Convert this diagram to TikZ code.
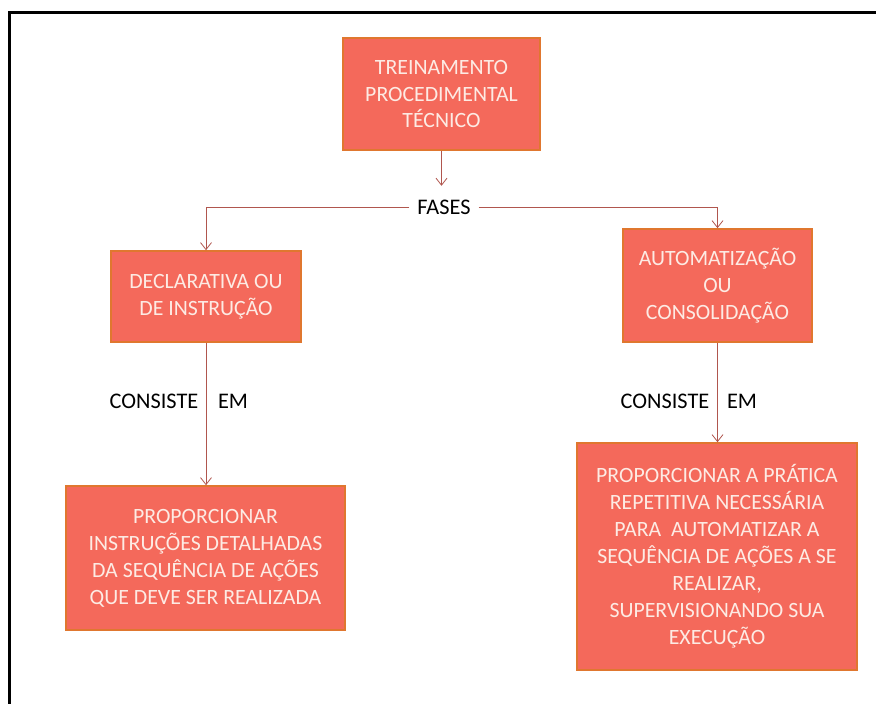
\documentclass[tikz,border=0pt]{standalone}
\usepackage{fontspec}
\setmainfont{Carlito}
\usetikzlibrary{arrows.meta}

\definecolor{boxfill}{HTML}{F4695B}
\definecolor{boxedge}{HTML}{E0772F}
\definecolor{boxtext}{HTML}{FDEBE4}
\definecolor{linkcol}{HTML}{B0564E}

\tikzset{
  phase/.style={draw=boxedge, line width=1.6pt, fill=boxfill, text=boxtext,
    align=center, inner sep=0pt, font=\fontsize{21.8}{27}\selectfont},
  word/.style={text=black, inner sep=0pt, font=\fontsize{22.3}{26}\selectfont},
  conn/.style={draw=linkcol, line width=0.8pt,
    -{Straight Barb[length=7pt,width=11pt,line width=0.8pt]}}
}

\begin{document}
\begin{tikzpicture}[x=1pt,y=-1pt]
\useasboundingbox (0,0) rectangle (876,704);

% outer frame (top and left edges)
\draw[line width=3pt, black] (9,704) -- (9,12) -- (876,12);

% boxes
\node[phase, minimum width=197pt, minimum height=112pt] (top) at (441.5,94)
  {TREINAMENTO\\PROCEDIMENTAL\\TÉCNICO};
\node[word, minimum height=42pt, inner xsep=8pt] (fases) at (444,207) {FASES};
\node[phase, minimum width=190pt, minimum height=91pt] (decl) at (206,296.5)
  {DECLARATIVA OU\\DE INSTRUÇÃO};
\node[phase, minimum width=189pt, minimum height=113pt] (auto) at (717.5,285.5)
  {AUTOMATIZAÇÃO\\OU\\CONSOLIDAÇÃO};
\node[phase, minimum width=279pt, minimum height=144pt] (prop1) at (205.5,558)
  {PROPORCIONAR\\INSTRUÇÕES DETALHADAS\\DA SEQUÊNCIA DE AÇÕES\\QUE DEVE SER REALIZADA};
\node[phase, minimum width=280pt, minimum height=227pt] (prop2) at (717,556.5)
  {PROPORCIONAR A PRÁTICA\\REPETITIVA NECESSÁRIA\\PARA~ AUTOMATIZAR A\\SEQUÊNCIA DE AÇÕES A SE\\REALIZAR,\\SUPERVISIONANDO SUA\\EXECUÇÃO};

% labels beside the lower connectors
\node[word] (cons1) at (154,401) {CONSISTE};
\node[word] (em1) at (233,401) {EM};
\node[word] (cons2) at (665,401) {CONSISTE};
\node[word] (em2) at (742,401) {EM};

% connectors
\draw[conn] (top.south) -- (top.south |- fases.north);
\draw[conn] (fases.west) -| (decl.north);
\draw[conn] (fases.east) -| (auto.north);
\draw[conn] (decl.south) -- (decl.south |- prop1.north);
\draw[conn] (auto.south) -- (auto.south |- prop2.north);
\end{tikzpicture}
\end{document}
